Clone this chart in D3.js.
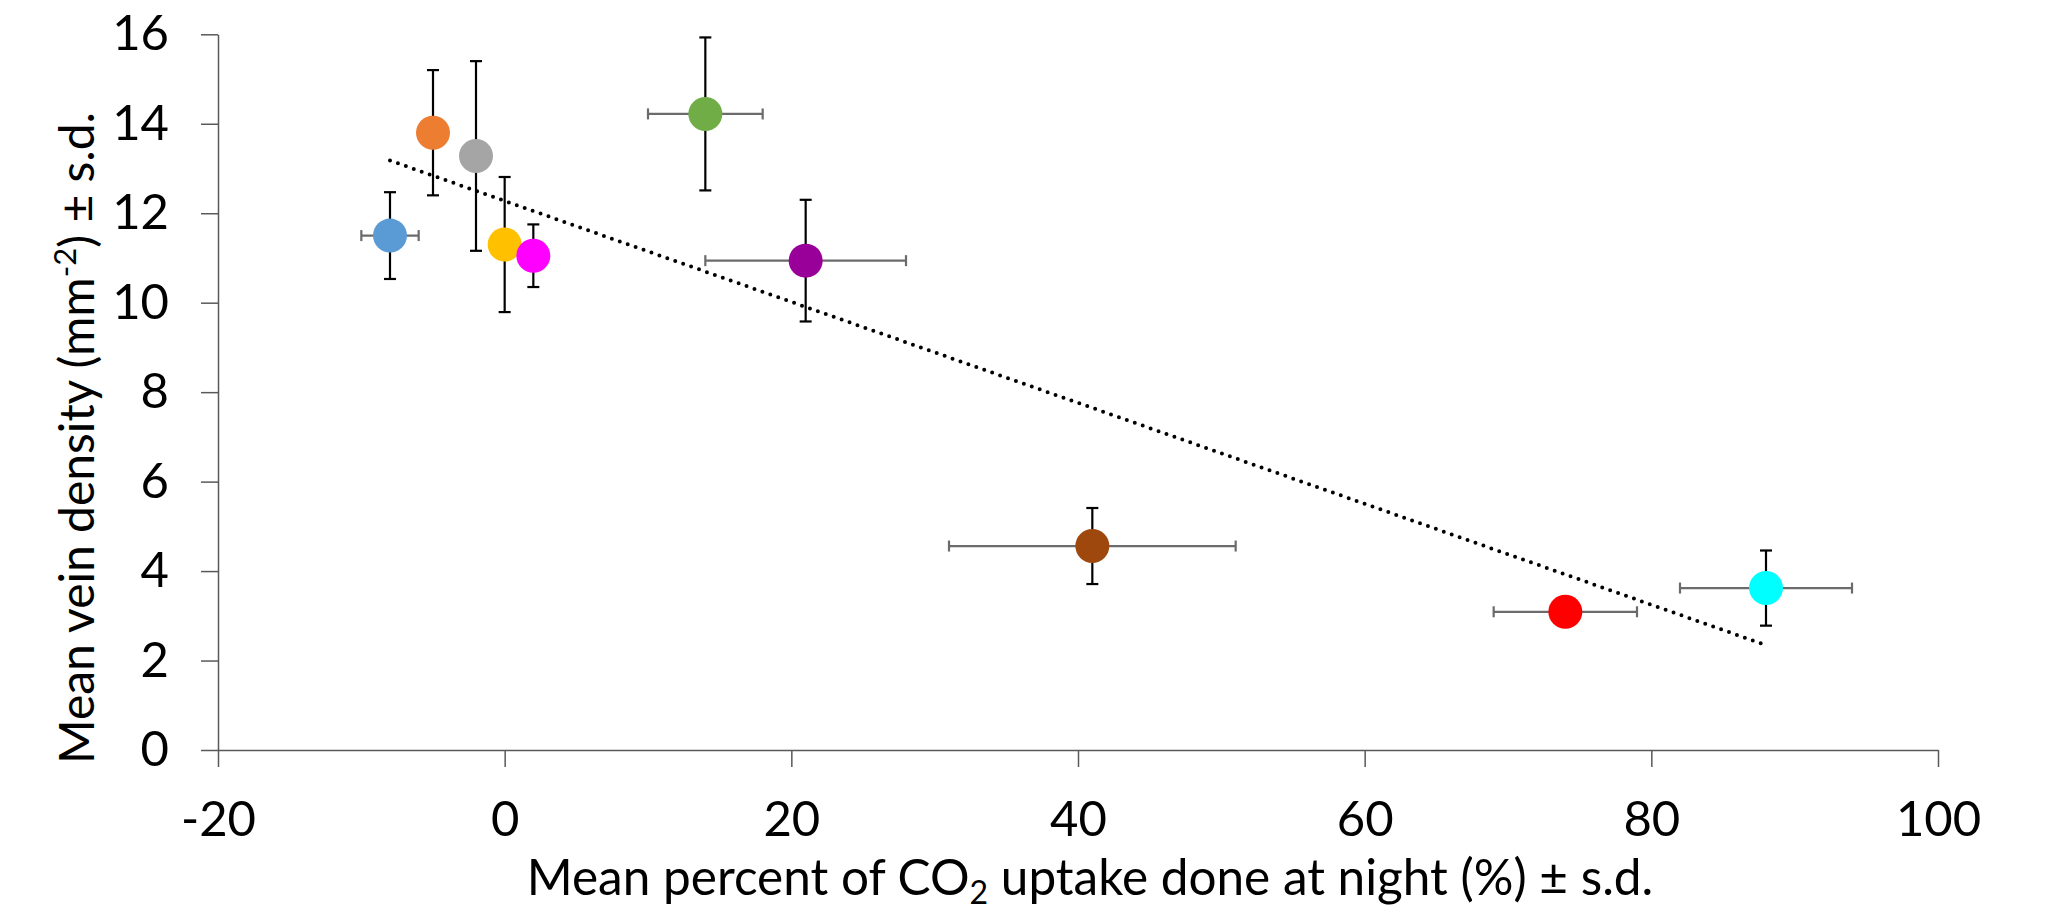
<!DOCTYPE html>
<html>
<head>
<meta charset="utf-8">
<script src="https://cdn.jsdelivr.net/npm/d3@7"></script>
<style>
  body { margin: 0; background: #fff; }
  svg { display: block; }
  .axis text { font-family: Lato, "Open Sans", sans-serif; font-size: 49px; fill: #000; }
  .axis path, .axis line { stroke: #595959; stroke-width: 1.5; }
  .title { font-family: Lato, "Open Sans", sans-serif; font-size: 48px; fill: #000; }
</style>
</head>
<body>
<svg width="2047" height="912"></svg>
<script>
// values
var meanX = [-8, -5, -2, 0, 2, 14, 21, 41, 74, 88];
var meanY = [11.5, 13.8, 13.28, 11.3, 11.05, 14.22, 10.94, 4.56, 3.09, 3.62];
var sdX   = [2, 0, 0, 0, 0, 4, 7, 10, 5, 6];
var sdY   = [0.97, 1.4, 2.12, 1.51, 0.7, 1.71, 1.36, 0.85, 0, 0.84];
var xTicks = [-20, 0, 20, 40, 60, 80, 100];
var yTicks = [0, 2, 4, 6, 8, 10, 12, 14, 16];

var pointColors = ["#5B9BD5", "#ED7D31", "#A5A5A5", "#FFC000", "#FF00FF",
                   "#70AD47", "#990099", "#9E480E", "#FF0000", "#00FFFF"];

var svg = d3.select("svg");

var x = d3.scaleLinear().domain([-20, 100]).range([218, 1938]);
var y = d3.scaleLinear().domain([0, 16]).range([750, 34.3]);

var points = meanX.map(function(v, i) {
  return { x: v, y: meanY[i], ex: sdX[i], ey: sdY[i], color: pointColors[i] };
});

var plain = function(d) { return String(d); };

// axes
svg.append("g")
  .attr("class", "axis")
  .attr("transform", "translate(0," + y(0) + ")")
  .call(d3.axisBottom(x).tickValues(xTicks).tickFormat(plain).tickSize(17).tickSizeOuter(0).tickPadding(34))
  .call(function(g) { g.selectAll("text").attr("dy", "0.72em"); });

svg.append("g")
  .attr("class", "axis")
  .attr("transform", "translate(" + x(-20) + ",0)")
  .call(d3.axisLeft(y).tickValues(yTicks).tickFormat(plain).tickSize(17).tickSizeOuter(0).tickPadding(32));

// linear trendline (least squares over the points)
var mx = d3.mean(points, d => d.x), my = d3.mean(points, d => d.y);
var sxy = d3.sum(points, d => (d.x - mx) * (d.y - my));
var sxx = d3.sum(points, d => (d.x - mx) * (d.x - mx));
var slope = sxy / sxx, icpt = my - slope * mx;
var xs = d3.extent(points, d => d.x);

svg.append("line")
  .attr("x1", x(xs[0])).attr("y1", y(icpt + slope * xs[0]))
  .attr("x2", x(xs[1])).attr("y2", y(icpt + slope * xs[1]))
  .attr("stroke", "#000")
  .attr("stroke-width", 4)
  .attr("stroke-linecap", "round")
  .attr("stroke-dasharray", "0 8.4");

// horizontal error bars
var hx = svg.append("g").selectAll("g")
  .data(points.filter(d => d.ex > 0))
  .enter().append("g")
  .attr("stroke", "#6b6b6b")
  .attr("stroke-width", 2.2);
hx.append("line")
  .attr("x1", d => x(d.x - d.ex)).attr("x2", d => x(d.x + d.ex))
  .attr("y1", d => y(d.y)).attr("y2", d => y(d.y));
hx.append("line")
  .attr("x1", d => x(d.x - d.ex)).attr("x2", d => x(d.x - d.ex))
  .attr("y1", d => y(d.y) - 5.5).attr("y2", d => y(d.y) + 5.5);
hx.append("line")
  .attr("x1", d => x(d.x + d.ex)).attr("x2", d => x(d.x + d.ex))
  .attr("y1", d => y(d.y) - 5.5).attr("y2", d => y(d.y) + 5.5);

// vertical error bars
var vy = svg.append("g").selectAll("g")
  .data(points.filter(d => d.ey > 0))
  .enter().append("g")
  .attr("stroke", "#000")
  .attr("stroke-width", 2.2);
vy.append("line")
  .attr("x1", d => x(d.x)).attr("x2", d => x(d.x))
  .attr("y1", d => y(d.y - d.ey)).attr("y2", d => y(d.y + d.ey));
vy.append("line")
  .attr("x1", d => x(d.x) - 6).attr("x2", d => x(d.x) + 6)
  .attr("y1", d => y(d.y - d.ey)).attr("y2", d => y(d.y - d.ey));
vy.append("line")
  .attr("x1", d => x(d.x) - 6).attr("x2", d => x(d.x) + 6)
  .attr("y1", d => y(d.y + d.ey)).attr("y2", d => y(d.y + d.ey));

// markers
svg.append("g").selectAll("circle")
  .data(points)
  .enter().append("circle")
  .attr("cx", d => x(d.x))
  .attr("cy", d => y(d.y))
  .attr("r", 17)
  .attr("fill", d => d.color);

// axis titles
var xt = svg.append("text")
  .attr("class", "title")
  .attr("x", 1090).attr("y", 895)
  .attr("text-anchor", "middle")
  .style("font-size", "49.5px");
xt.append("tspan").text("Mean percent of CO");
xt.append("tspan").attr("font-size", "32px").attr("dy", 9).text("2");
xt.append("tspan").attr("dy", -9).text(" uptake done at night (%) \u00b1 s.d.");

var yt = svg.append("text")
  .attr("class", "title")
  .attr("transform", "translate(94,438) rotate(-90)")
  .attr("text-anchor", "middle");
yt.append("tspan").text("Mean vein density (mm");
yt.append("tspan").attr("font-size", "31px").attr("dy", -18).text("-2");
yt.append("tspan").attr("dy", 18).text(") \u00b1 s.d.");
</script>
</body>
</html>
